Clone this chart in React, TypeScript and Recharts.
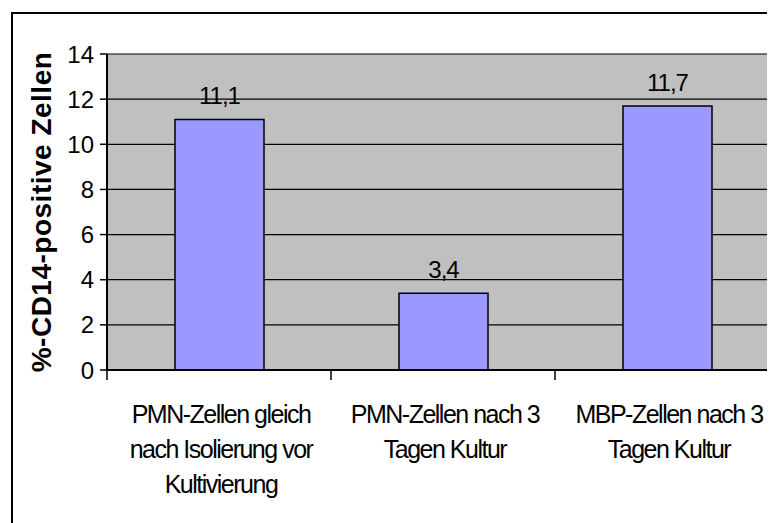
import React from 'react';
import {
  BarChart,
  Bar,
  XAxis,
  YAxis,
  CartesianGrid,
  LabelList,
} from 'recharts';

// category labels, one entry per line as in the original
const categoryLines: string[][] = [
  ['PMN-Zellen gleich', 'nach Isolierung vor', 'Kultivierung'],
  ['PMN-Zellen nach 3', 'Tagen Kultur'],
  ['MBP-Zellen nach 3', 'Tagen Kultur'],
];
const categories = ['PMN gleich', 'PMN 3 Tage', 'MBP 3 Tage'];
const values = [11.1, 3.4, 11.7];
const yTicks = [0, 2, 4, 6, 8, 10, 12, 14];

const data = categories.map((c, i) => ({ name: c, value: values[i], lines: categoryLines[i] }));

const FONT = '"Liberation Sans", Arial, sans-serif';

const CategoryTick = (props: any) => {
  const { x, y, payload, index } = props;
  const half = payload && payload.offset ? payload.offset : 112;
  const lines = categoryLines[index] || [];
  return (
    <g>
      {index === 0 && <line x1={x - half} x2={x - half} y1={y} y2={y + 10} stroke="#000" strokeWidth={1.5} />}
      <line x1={x + half} x2={x + half} y1={y} y2={y + 10} stroke="#000" strokeWidth={1.5} />
      {lines.map((l, i) => (
        <text
          key={i}
          x={x + 2}
          y={y + 53 + i * 35}
          textAnchor="middle"
          fontSize={25}
          letterSpacing={-1.5}
          fill="#000"
          fontFamily={FONT}
        >
          {l}
        </text>
      ))}
    </g>
  );
};

export default function App() {
  return (
    <div style={{ position: 'relative', width: 767, height: 515, overflow: 'hidden', background: '#fff' }}>
      <div
        style={{
          position: 'absolute',
          left: 3,
          top: 4,
          width: 820,
          height: 560,
          border: '2px solid #000',
          boxSizing: 'border-box',
        }}
      />
      <div style={{ position: 'absolute', left: 0, top: 0 }}>
        <BarChart
          width={800}
          height={515}
          data={data}
          margin={{ top: 46, right: 29, bottom: 0, left: 0 }}
          barSize={89}
        >
          <CartesianGrid vertical={false} stroke="#000" strokeWidth={1.2} fill="#C0C0C0" fillOpacity={1} />
          <XAxis
            dataKey="name"
            height={153}
            tickLine={false}
            tickSize={0}
            tickMargin={0}
            axisLine={{ stroke: '#000', strokeWidth: 2 }}
            tick={<CategoryTick />}
            interval={0}
          />
          <YAxis
            width={99}
            domain={[0, 14]}
            ticks={yTicks}
            interval={0}
            tickSize={7}
            tickMargin={6}
            axisLine={{ stroke: '#000', strokeWidth: 2 }}
            tickLine={{ stroke: '#000', strokeWidth: 1.5 }}
            tick={{ fill: '#000', fontSize: 24, fontFamily: FONT }}
            label={{
              value: '%-CD14-positive Zellen',
              angle: -90,
              position: 'insideLeft',
              offset: 0,
              dx: 33,
              style: {
                textAnchor: 'middle',
                fontSize: 28,
                fontWeight: 'bold',
                letterSpacing: 0.5,
                fill: '#000',
                fontFamily: FONT,
              },
            }}
          />
          <Bar dataKey="value" fill="#9999FF" stroke="#000" strokeWidth={1.5} isAnimationActive={false}>
            <LabelList
              dataKey="value"
              position="top"
              offset={15}
              formatter={(v: any) => String(v).replace('.', ',')}
              style={{ fill: '#000', fontSize: 24, letterSpacing: -1, fontFamily: FONT }}
            />
          </Bar>
        </BarChart>
      </div>
    </div>
  );
}
